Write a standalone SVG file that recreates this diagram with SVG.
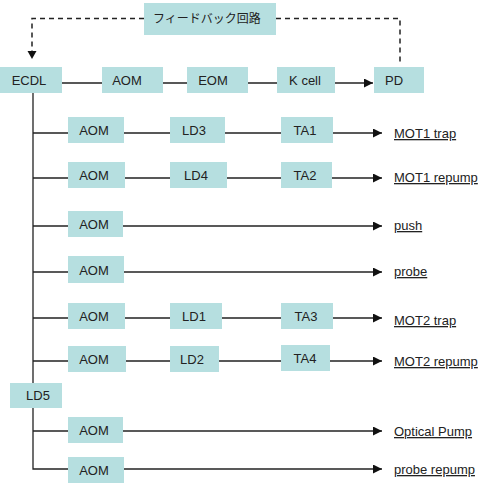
<svg xmlns="http://www.w3.org/2000/svg" width="487" height="490" viewBox="0 0 487 490">
<style>
.box{fill:#b6dfe0}
.t{font-family:"Liberation Sans","Noto Sans CJK JP",Arial,sans-serif;font-size:13px;fill:#222}
.j{font-family:"Noto Sans CJK JP","Liberation Sans",sans-serif;font-size:12px;fill:#222}
.lbl{font-family:"Liberation Sans",Arial,sans-serif;font-size:13px;fill:#222;text-decoration:underline}
.ln{stroke:#222;stroke-width:1.3;fill:none}
.da{stroke:#222;stroke-width:1.5;fill:none;stroke-dasharray:5,4}
</style>
<defs>
<marker id="ah" viewBox="0 0 10 10" refX="10" refY="5" markerWidth="9" markerHeight="9" markerUnits="userSpaceOnUse" orient="auto"><path d="M0,0L10,5L0,10z" fill="#111"/></marker>
</defs>
<rect width="487" height="490" fill="#fff"/>
<g id="connectors">
<path class="da" d="M144,18.5H32V52"/>
<path d="M27.5,51L32,59L36.5,51z" fill="#111"/>
<path class="da" d="M276,18.5H400V62"/>
<path class="ln" d="M62,83H102M163,83H187M248,83H277"/>
<path class="ln" d="M335,83H373" marker-end="url(#ah)"/>
<path class="ln" d="M33,93V383M33,408V469H68"/>
<path class="ln" d="M33,133H68M124,133H170M225,133H281"/>
<path class="ln" d="M333,133H382" marker-end="url(#ah)"/>
<path class="ln" d="M33,178H68M125,178H170M227,178H281"/>
<path class="ln" d="M332,178H382" marker-end="url(#ah)"/>
<path class="ln" d="M33,226H68"/>
<path class="ln" d="M123,226H382" marker-end="url(#ah)"/>
<path class="ln" d="M33,272H68"/>
<path class="ln" d="M124,272H382" marker-end="url(#ah)"/>
<path class="ln" d="M33,318H68M125,318H170M222,318H281"/>
<path class="ln" d="M333,318H382" marker-end="url(#ah)"/>
<path class="ln" d="M33,361H68M126,361H170M219,361H281"/>
<path class="ln" d="M330,361H382" marker-end="url(#ah)"/>
<path class="ln" d="M33,431H68"/>
<path class="ln" d="M123,431H382" marker-end="url(#ah)"/>
<path class="ln" d="M124,469H382" marker-end="url(#ah)"/>
</g>
<g id="feedback"><rect class="box" x="144" y="3" width="132" height="32"/><text class="j" x="207" y="23" text-anchor="middle">フィードバック回路</text></g>
<g id="ecdl"><rect class="box" x="0" y="67" width="62" height="26"/><text class="t" x="29" y="85" text-anchor="middle">ECDL</text></g>
<g id="aom0"><rect class="box" x="102" y="67" width="61" height="26"/><text class="t" x="127" y="85" text-anchor="middle">AOM</text></g>
<g id="eom"><rect class="box" x="187" y="67" width="61" height="26"/><text class="t" x="213" y="85" text-anchor="middle">EOM</text></g>
<g id="kcell"><rect class="box" x="277" y="67" width="58" height="26"/><text class="t" x="305" y="85" text-anchor="middle">K cell</text></g>
<g id="pd"><rect class="box" x="374" y="67" width="50" height="26"/><text class="t" x="394" y="85" text-anchor="middle">PD</text></g>

<g id="aom1"><rect class="box" x="68" y="117" width="56" height="26"/><text class="t" x="94" y="135" text-anchor="middle">AOM</text></g>
<g id="ld3"><rect class="box" x="170" y="117" width="55" height="26"/><text class="t" x="194" y="135" text-anchor="middle">LD3</text></g>
<g id="ta1"><rect class="box" x="281" y="117" width="52" height="26"/><text class="t" x="305" y="135" text-anchor="middle">TA1</text></g>
<g id="l1"><text class="lbl" x="394" y="138">MOT1 trap</text></g>

<g id="aom2"><rect class="box" x="68" y="162" width="57" height="26"/><text class="t" x="94" y="180" text-anchor="middle">AOM</text></g>
<g id="ld4"><rect class="box" x="170" y="162" width="57" height="26"/><text class="t" x="196" y="180" text-anchor="middle">LD4</text></g>
<g id="ta2"><rect class="box" x="281" y="162" width="51" height="26"/><text class="t" x="305" y="180" text-anchor="middle">TA2</text></g>
<g id="l2"><text class="lbl" x="394" y="182">MOT1 repump</text></g>

<g id="aom3"><rect class="box" x="68" y="211" width="55" height="26"/><text class="t" x="94" y="229" text-anchor="middle">AOM</text></g>
<g id="l3"><text class="lbl" x="394" y="230">push</text></g>

<g id="aom4"><rect class="box" x="68" y="256" width="56" height="27"/><text class="t" x="94" y="275" text-anchor="middle">AOM</text></g>
<g id="l4"><text class="lbl" x="394" y="276">probe</text></g>

<g id="aom5"><rect class="box" x="68" y="303" width="57" height="26"/><text class="t" x="94" y="321" text-anchor="middle">AOM</text></g>
<g id="ld1"><rect class="box" x="170" y="303" width="52" height="26"/><text class="t" x="194" y="321" text-anchor="middle">LD1</text></g>
<g id="ta3"><rect class="box" x="281" y="303" width="52" height="26"/><text class="t" x="306" y="321" text-anchor="middle">TA3</text></g>
<g id="l5"><text class="lbl" x="394" y="325">MOT2 trap</text></g>

<g id="aom6"><rect class="box" x="68" y="346" width="58" height="26"/><text class="t" x="94" y="364" text-anchor="middle">AOM</text></g>
<g id="ld2"><rect class="box" x="170" y="346" width="49" height="26"/><text class="t" x="192" y="364" text-anchor="middle">LD2</text></g>
<g id="ta4"><rect class="box" x="281" y="345" width="49" height="26"/><text class="t" x="305" y="363" text-anchor="middle">TA4</text></g>
<g id="l6"><text class="lbl" x="394" y="366">MOT2 repump</text></g>

<g id="ld5"><rect class="box" x="10" y="383" width="52" height="25"/><text class="t" x="38" y="400" text-anchor="middle">LD5</text></g>

<g id="aom7"><rect class="box" x="68" y="417" width="55" height="26"/><text class="t" x="94" y="435" text-anchor="middle">AOM</text></g>
<g id="l7"><text class="lbl" x="394" y="436">Optical Pump</text></g>

<g id="aom8"><rect class="box" x="68" y="457" width="56" height="26"/><text class="t" x="94" y="475" text-anchor="middle">AOM</text></g>
<g id="l8"><text class="lbl" x="394" y="474">probe repump</text></g>
</svg>
